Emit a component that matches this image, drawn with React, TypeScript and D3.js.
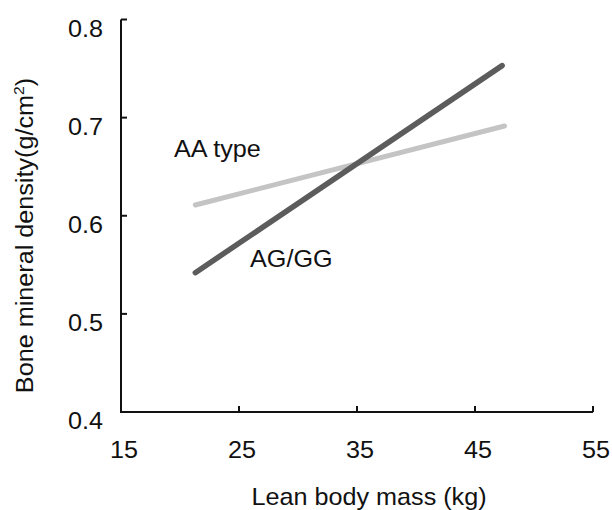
import React from "react";
import * as d3 from "d3";

const xTicks = [15, 25, 35, 45, 55];
const yTicks = [0.4, 0.5, 0.6, 0.7, 0.8];
const aaType = [
  { x: 21.3, y: 0.611 },
  { x: 47.5, y: 0.6915 },
];
const agGG = [
  { x: 21.3, y: 0.542 },
  { x: 47.3, y: 0.753 },
];
const xTitle = "Lean body mass (kg)";
const yTitle = "Bone mineral density(g/cm";

const W = 612;
const H = 510;
const left = 121;
const right = 593;
const top = 19.5;
const bottom = 412;
const FONT = "'Liberation Sans', Arial, sans-serif";
const SX = 1.05;
const FS = 24;

export default function App() {
  const x = d3.scaleLinear().domain([15, 55]).range([left, right]);
  const y = d3.scaleLinear().domain([0.4, 0.8]).range([bottom, top]);
  const line = d3
    .line<{ x: number; y: number }>()
    .x((d) => x(d.x))
    .y((d) => y(d.y));

  const txt = (
    s: string,
    px: number,
    py: number,
    anchor: "start" | "middle" | "end",
    key?: string | number
  ) => (
    <text
      key={key}
      transform={`translate(${px},${py}) scale(${SX},1)`}
      textAnchor={anchor}
      fontSize={FS}
      fontFamily={FONT}
      fill="#111"
    >
      {s}
    </text>
  );

  return (
    <svg
      width={W}
      height={H}
      style={{ position: "absolute", left: 0, top: 0, background: "#fff" }}
    >
      <path
        d={`M${left},${top}V${bottom}H${right}`}
        fill="none"
        stroke="#111"
        strokeWidth={2}
      />
      {yTicks.map((t) => (
        <line
          key={"yt" + t}
          x1={left}
          x2={left + 6}
          y1={y(t)}
          y2={y(t)}
          stroke="#111"
          strokeWidth={2}
        />
      ))}
      {xTicks.map((t) => (
        <line
          key={"xt" + t}
          x1={x(t)}
          x2={x(t)}
          y1={bottom}
          y2={bottom - 6}
          stroke="#111"
          strokeWidth={2}
        />
      ))}
      {yTicks.map((t) => txt(t.toFixed(1), 103, y(t) + 17, "end", "yl" + t))}
      {xTicks.map((t) => txt(String(t), x(t) + 3, 458, "middle", "xl" + t))}

      <path
        d={line(aaType) || ""}
        fill="none"
        stroke="#c4c4c4"
        strokeWidth={5}
        strokeLinecap="round"
      />
      <path
        d={line(agGG) || ""}
        fill="none"
        stroke="#5c5c5c"
        strokeWidth={5.5}
        strokeLinecap="round"
      />

      {txt("AA type", 174, 157, "start")}
      {txt("AG/GG", 250, 267, "start")}

      {txt(xTitle, 369, 505, "middle")}
      <text
        transform={`translate(33,235.5) rotate(-90) scale(${SX},1)`}
        textAnchor="middle"
        fontSize={FS}
        fontFamily={FONT}
        fill="#111"
      >
        {yTitle}
        <tspan fontSize={15} dy={-9}>
          2
        </tspan>
        <tspan dy={9}>)</tspan>
      </text>
    </svg>
  );
}
